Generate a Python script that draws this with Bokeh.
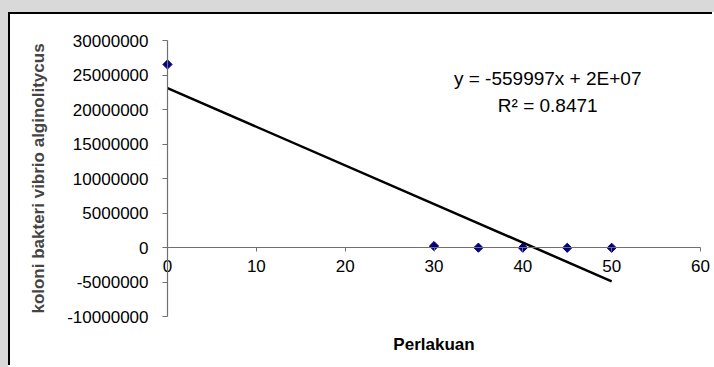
import numpy as np
from bokeh.plotting import figure
from bokeh.layouts import column, row
from bokeh.models import Range1d, Label, FixedTicker, NumeralTickFormatter, Div
from bokeh.embed import file_html
from bokeh.resources import INLINE

# ---- data ----
perlakuan = [0, 30, 35, 40, 45, 50]
koloni = [26570000, 250000, 20000, 10000, 0, 0]
x_ticks = [0, 10, 20, 30, 40, 50, 60]
y_ticks = [-10000000, -5000000, 0, 5000000, 10000000, 15000000,
           20000000, 25000000, 30000000]
equation_text = "y = -559997x + 2E+07"
r2_text = "R\u00b2 = 0.8471"
x_title = "Perlakuan"
y_title = "koloni bakteri vibrio alginolitycus"

# linear trend line fitted to the data
slope, intercept = np.polyfit(perlakuan, koloni, 1)
trend_x = [min(perlakuan), max(perlakuan)]
trend_y = [slope * v + intercept for v in trend_x]

FONT = "Liberation Sans"
GRAY = "#d9d9d9"

# the frame covers the whole canvas; both axes sit at the zero lines
p = figure(width=704, height=353, output_backend="svg", toolbar_location=None,
           x_range=Range1d(-17.674, 61.576),
           y_range=Range1d(-17350000, 33810000),
           min_border=0)
p.styles = {"border-left": "2px solid black", "border-top": "2px solid black"}
p.margin = 0
p.background_fill_color = "white"
p.border_fill_color = "white"
p.outline_line_color = None
p.grid.visible = False

# axes
p.xaxis.fixed_location = 0
p.yaxis.fixed_location = 0
p.xaxis.bounds = (x_ticks[0], x_ticks[-1])
p.yaxis.bounds = (y_ticks[0], y_ticks[-1])
p.xaxis.ticker = FixedTicker(ticks=x_ticks)
p.yaxis.ticker = FixedTicker(ticks=y_ticks)
p.yaxis.formatter = NumeralTickFormatter(format="0")
for ax in (p.xaxis, p.yaxis):
    ax.axis_line_color = "#707070"
    ax.axis_line_width = 1.2
    ax.major_tick_line_color = "#707070"
    ax.major_tick_in = 0
    ax.minor_tick_line_color = None
    ax.major_label_text_font = FONT
    ax.major_label_text_color = "black"
p.xaxis.major_tick_out = 4
p.xaxis.major_label_text_font_size = "17px"
p.xaxis.major_label_standoff = 8
p.yaxis.major_tick_out = 5
p.yaxis.major_label_text_font_size = "17px"
p.yaxis.major_label_standoff = 14
p.yaxis.axis_label = y_title
p.yaxis.axis_label_text_font = FONT
p.yaxis.axis_label_text_font_style = "bold"
p.yaxis.axis_label_text_font_size = "17px"
p.yaxis.axis_label_standoff = 16

# x axis title below the plot
p.add_layout(Label(x=30, y=-14010000, text=x_title, text_align="center",
                   text_baseline="middle", text_font=FONT,
                   text_font_size="17px", text_font_style="bold",
                   text_color="black"))

# trend line and points
p.line(trend_x, trend_y, line_color="black", line_width=2.5)
p.scatter(perlakuan, koloni, marker="square", angle=np.pi / 4, size=6.5,
          fill_color="#000080", line_color="#000080")

# equation labels
p.add_layout(Label(x=42.8, y=24600000, text=equation_text, text_align="center",
                   text_baseline="alphabetic", text_font=FONT,
                   text_font_size="19px", text_color="black"))
p.add_layout(Label(x=42.8, y=20600000, text=r2_text, text_align="center",
                   text_baseline="alphabetic", text_font=FONT,
                   text_font_size="19px", text_color="black"))

top_strip = Div(text="", width=714, height=12, margin=0,
                styles={"background-color": GRAY})
left_strip = Div(text="", width=8, height=355, margin=0,
                 styles={"background-color": GRAY})
layout = column(top_strip, row(left_strip, p, spacing=0), spacing=0)

html = file_html(layout, INLINE)
open("out.html", "w").write(html)
